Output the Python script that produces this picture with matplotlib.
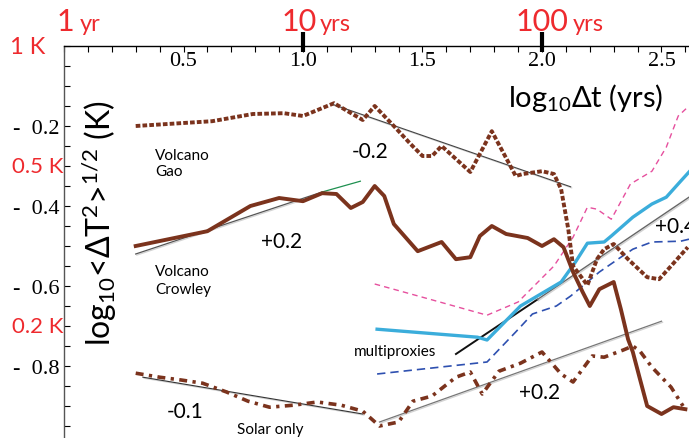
import matplotlib
matplotlib.use("Agg")
import matplotlib.pyplot as plt
import matplotlib.patheffects as pe
from matplotlib.ticker import MultipleLocator

plt.rcParams['font.family'] = ['Lato', 'DejaVu Sans']
plt.rcParams['mathtext.default'] = 'regular'

# Volcano Gao (dotted)
gao_x = [0.30, 0.62, 0.79, 0.92, 1.00, 1.13, 1.25, 1.30, 1.38, 1.45, 1.50, 1.54, 1.58,
         1.70, 1.79, 1.89, 1.92, 2.00, 2.05, 2.08, 2.11, 2.13, 2.19, 2.23, 2.26, 2.30,
         2.36, 2.44, 2.49, 2.54, 2.61]
gao_y = [-0.200, -0.188, -0.170, -0.168, -0.175, -0.143, -0.185, -0.150, -0.200, -0.245,
         -0.275, -0.275, -0.250, -0.315, -0.213, -0.325, -0.320, -0.313, -0.320, -0.358,
         -0.458, -0.550, -0.598, -0.533, -0.508, -0.495, -0.533, -0.578, -0.583, -0.550,
         -0.503]

# Volcano Crowley (solid)
crow_x = [0.30, 0.60, 0.78, 0.90, 1.00, 1.08, 1.14, 1.20, 1.25, 1.30, 1.34, 1.38, 1.48,
          1.58, 1.64, 1.70, 1.74, 1.79, 1.85, 1.94, 2.00, 2.05, 2.09, 2.13, 2.17, 2.20,
          2.24, 2.30, 2.33, 2.36, 2.38, 2.41, 2.44, 2.50, 2.55, 2.60]
crow_y = [-0.500, -0.463, -0.400, -0.380, -0.388, -0.368, -0.370, -0.405, -0.390, -0.350,
          -0.375, -0.445, -0.513, -0.490, -0.533, -0.528, -0.475, -0.450, -0.470, -0.480,
          -0.500, -0.483, -0.503, -0.565, -0.615, -0.650, -0.608, -0.590, -0.658, -0.733,
          -0.765, -0.833, -0.900, -0.920, -0.903, -0.908]

# Solar only (dash-dot)
sol_x = [0.30, 0.40, 0.49, 0.58, 0.68, 0.77, 0.86, 0.96, 1.06, 1.16, 1.25, 1.32, 1.40,
         1.46, 1.54, 1.64, 1.70, 1.75, 1.82, 1.91, 2.00, 2.08, 2.13, 2.21, 2.26, 2.34,
         2.38, 2.41, 2.46, 2.54, 2.59]
sol_y = [-0.818, -0.828, -0.835, -0.843, -0.865, -0.888, -0.903, -0.898, -0.890, -0.898,
         -0.913, -0.950, -0.940, -0.888, -0.875, -0.828, -0.815, -0.870, -0.813, -0.793,
         -0.765, -0.820, -0.840, -0.775, -0.778, -0.760, -0.750, -0.763, -0.803, -0.853,
         -0.900]

# multiproxies (mean, upper, lower)
mp_x = [1.31, 1.73, 1.77, 1.91, 2.08, 2.14, 2.19, 2.26, 2.29, 2.38, 2.46, 2.52, 2.58, 2.615]
mp_y = [-0.708, -0.728, -0.735, -0.650, -0.590, -0.540, -0.493, -0.490, -0.475, -0.428,
        -0.395, -0.378, -0.338, -0.315]
mp_hi_x = [1.30, 1.53, 1.77, 1.90, 2.05, 2.13, 2.19, 2.23, 2.29, 2.37, 2.46, 2.52, 2.57, 2.615]
mp_hi_y = [-0.595, -0.633, -0.673, -0.640, -0.550, -0.478, -0.403, -0.408, -0.433, -0.345,
           -0.313, -0.253, -0.175, -0.150]
mp_lo_x = [1.31, 1.77, 1.89, 1.96, 2.06, 2.12, 2.19, 2.24, 2.33, 2.38, 2.46, 2.58, 2.615]
mp_lo_y = [-0.820, -0.790, -0.715, -0.670, -0.650, -0.625, -0.590, -0.565, -0.528, -0.508,
           -0.490, -0.488, -0.483]

# fitted slopes
gao_fit_x, gao_fit_y = [1.12, 2.12], [-0.145, -0.352]
crow_fit_x, crow_fit_y = [0.30, 1.08], [-0.520, -0.365]
crow_ext_x, crow_ext_y = [1.08, 1.24], [-0.365, -0.338]
mp_fit1_x, mp_fit1_y = [1.64, 1.98], [-0.770, -0.634]
mp_fit2_x, mp_fit2_y = [1.98, 2.615], [-0.634, -0.378]
sol_fit1_x, sol_fit1_y = [0.33, 1.25], [-0.828, -0.920]
sol_fit2_x, sol_fit2_y = [1.32, 2.50], [-0.940, -0.688]

xticks = [0.5, 1.0, 1.5, 2.0, 2.5]
xtick_labels = ['0.5', '1.0', '1.5', '2.0', '2.5']
yticks = [-0.2, -0.4, -0.6, -0.8]
ytick_labels = ['-  0.2', '-  0.4', '-  0.6', '-  0.8']

brown = '#7B331D'
red = '#EE2A2E'

fig = plt.figure(figsize=(6.89, 4.39), dpi=100)
ax = fig.add_axes([64 / 689, 0, 625 / 689, 392 / 439])
ax.set_xlim(0, 625 / 239)
ax.set_ylim(-392 / 400, 0)

for s in ['right', 'bottom']:
    ax.spines[s].set_visible(False)
ax.spines['top'].set_linewidth(1.0)
ax.spines['left'].set_linewidth(1.0)
ax.spines['left'].set_color('#555555')

ax.set_xticks(xticks)
ax.set_xticklabels(xtick_labels, fontfamily='Liberation Serif', fontsize=16)
ax.xaxis.set_minor_locator(MultipleLocator(0.1))
ax.tick_params(axis='x', which='both', direction='in', top=True, bottom=False,
               labeltop=True, labelbottom=False, length=4, width=0.8, pad=-17)
ax.set_yticks(yticks)
ax.set_yticklabels(ytick_labels, fontfamily='Liberation Serif', fontsize=16,
                   fontweight='bold')
for t in ax.get_yticklabels():
    t.set_fontweight('normal')
ax.yaxis.set_minor_locator(MultipleLocator(0.05))
ax.tick_params(axis='y', which='both', direction='in', left=True, length=4,
               width=0.8, pad=3)

shadow = [pe.SimpleLineShadow(offset=(0.8, -0.8), shadow_color='gray', alpha=0.35), pe.Normal()]

# fits
ax.plot(gao_fit_x, gao_fit_y, color='#444444', lw=0.8, path_effects=shadow, zorder=2)
ax.plot(crow_fit_x, crow_fit_y, color='#555555', lw=0.9, path_effects=shadow, zorder=2)
ax.plot(crow_ext_x, crow_ext_y, color='#1E9050', lw=0.9, zorder=2)
ax.plot(mp_fit1_x, mp_fit1_y, color='#111111', lw=1.4, zorder=2)
ax.plot(mp_fit2_x, mp_fit2_y, color='#666666', lw=1.0, path_effects=shadow, zorder=2)
ax.plot(sol_fit1_x, sol_fit1_y, color='#333333', lw=0.8, path_effects=shadow, zorder=2)
ax.plot(sol_fit2_x, sol_fit2_y, color='#777777', lw=0.9, path_effects=shadow, zorder=2)

# series
ax.plot(mp_hi_x, mp_hi_y, color='#E6509E', lw=1.0, dashes=(4, 3), zorder=3)
ax.plot(mp_lo_x, mp_lo_y, color='#2E50B0', lw=1.2, dashes=(5, 3), zorder=3)
ax.plot(mp_x, mp_y, color='#3BADDB', lw=2.4, zorder=3)
ax.plot(gao_x, gao_y, color=brown, lw=2.8, dashes=(1.2, 0.55), zorder=4)
ax.plot(crow_x, crow_y, color=brown, lw=2.8, zorder=4)
ax.plot(sol_x, sol_y, color=brown, lw=2.6, dashes=(2.2, 1.5, 0.9, 1.5), zorder=4)

# big ticks at 10 and 100 years
ax.vlines([1.0, 2.0], -0.015, 0.035, color='black', lw=3, clip_on=False, zorder=5)

# red scale annotations
for xc, num, unit, ux in [(0.004, '1', 'yr', 0.067), (0.983, '10', 'yrs', 1.07),
                          (2.0, '100', 'yrs', 2.13)]:
    ax.text(xc, 0.04, num, color=red, fontsize=22, ha='center', va='baseline', clip_on=False)
    ax.text(ux, 0.04, unit, color=red, fontsize=17, ha='left', va='baseline', clip_on=False)
ax.text(-0.08, 0.0, '1 K', color=red, fontsize=17, ha='right', va='center', clip_on=False)
ax.text(-0.004, -0.301, '0.5 K', color=red, fontsize=16, ha='right', va='center', clip_on=False)
ax.text(-0.004, -0.699, '0.2 K', color=red, fontsize=16, ha='right', va='center', clip_on=False)

# axis titles
ax.text(2.184, -0.1275, r'log$_{10}$Δt (yrs)', fontsize=21, ha='center', va='center')
ax.text(0.151, -0.44, r'log$_{10}$<ΔT$^2$>$^{1/2}$ (K)', fontsize=23, rotation=90,
        ha='center', va='center')

# annotations
ax.text(0.381, -0.2925, 'Volcano\nGao', fontsize=11, ha='left', va='center', linespacing=1.25)
ax.text(0.381, -0.585, 'Volcano\nCrowley', fontsize=11, ha='left', va='center', linespacing=1.3)
ax.text(1.28, -0.2625, '-0.2', fontsize=15, ha='center', va='center')
ax.text(0.912, -0.4875, '+0.2', fontsize=15, ha='center', va='center')
ax.text(2.473, -0.45, '+0.4', fontsize=15, ha='left', va='center')
ax.text(1.385, -0.7625, 'multiproxies', fontsize=11, ha='center', va='center')
ax.text(0.506, -0.9125, '-0.1', fontsize=15, ha='center', va='center')
ax.text(0.862, -0.9575, 'Solar only', fontsize=11, ha='center', va='center')
ax.text(1.99, -0.865, '+0.2', fontsize=15, ha='center', va='center')

fig.savefig('out.png', dpi=100)
